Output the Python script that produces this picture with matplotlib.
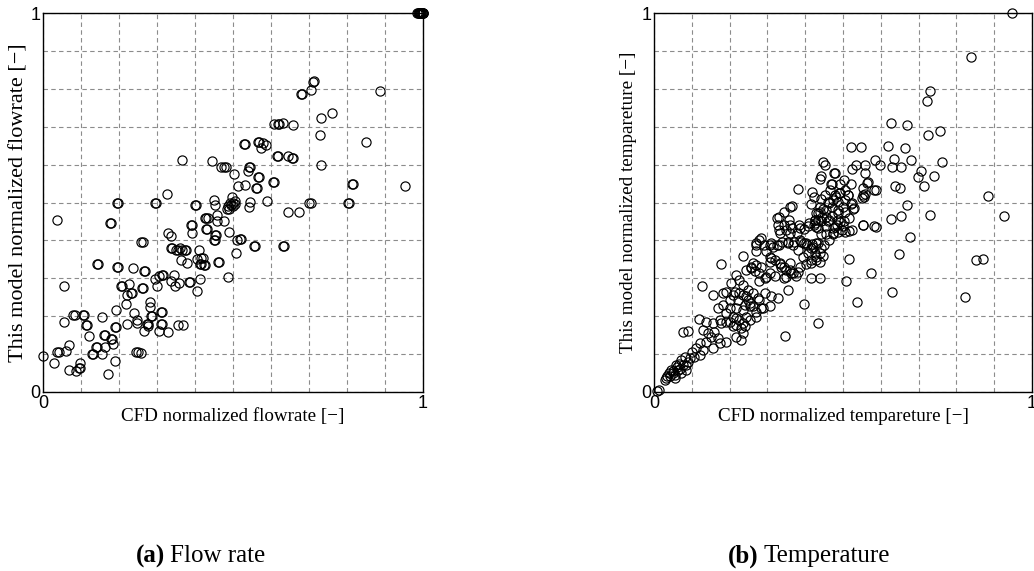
import numpy as np
import matplotlib
matplotlib.use("Agg")
import matplotlib.pyplot as plt

# (CFD, this model) pairs; repeated pairs show as bold rings
flow_pts = [
    (0.985, 1.0), (0.987, 1.0), (0.989, 1.0), (0.99, 1.0), (0.991, 1.0), (0.993, 1.0),
    (0.994, 1.0), (0.996, 1.0), (0.997, 1.0), (0.999, 1.0), (1.0, 1.0), (1.0, 1.0),
    (0.711, 0.818), (0.714, 0.820), (0.706, 0.796), (0.678, 0.785), (0.681, 0.785),
    (0.886, 0.794), (0.761, 0.737), (0.731, 0.723), (0.728, 0.679),
    (0.607, 0.706), (0.619, 0.706), (0.622, 0.706), (0.632, 0.709), (0.658, 0.704),
    (0.849, 0.659), (0.529, 0.654), (0.532, 0.654), (0.566, 0.659), (0.569, 0.659),
    (0.579, 0.657), (0.588, 0.652), (0.573, 0.644),
    (0.616, 0.624), (0.619, 0.624), (0.646, 0.622), (0.654, 0.617), (0.657, 0.617),
    (0.732, 0.600), (0.366, 0.611), (0.444, 0.610), (0.468, 0.594), (0.476, 0.594),
    (0.482, 0.594), (0.503, 0.575), (0.541, 0.595), (0.544, 0.595), (0.540, 0.583),
    (0.565, 0.568), (0.568, 0.568), (0.604, 0.555), (0.607, 0.555),
    (0.561, 0.539), (0.564, 0.539), (0.514, 0.544), (0.532, 0.546),
    (0.813, 0.550), (0.816, 0.550), (0.953, 0.544), (0.327, 0.522),
    (0.497, 0.515), (0.505, 0.504), (0.500, 0.500), (0.491, 0.500), (0.487, 0.491),
    (0.496, 0.494), (0.504, 0.497), (0.489, 0.482), (0.485, 0.482), (0.500, 0.491),
    (0.451, 0.506), (0.453, 0.494), (0.544, 0.501), (0.542, 0.489), (0.590, 0.504),
    (0.399, 0.493), (0.402, 0.493), (0.295, 0.499), (0.298, 0.499),
    (0.194, 0.499), (0.197, 0.499), (0.701, 0.499), (0.704, 0.499),
    (0.802, 0.499), (0.805, 0.499), (0.645, 0.475), (0.673, 0.475),
    (0.038, 0.454), (0.176, 0.447), (0.179, 0.447), (0.425, 0.459), (0.428, 0.459),
    (0.434, 0.459), (0.458, 0.468), (0.459, 0.451), (0.475, 0.451),
    (0.390, 0.441), (0.393, 0.441), (0.393, 0.419), (0.429, 0.429), (0.432, 0.429),
    (0.452, 0.414), (0.455, 0.414), (0.449, 0.400), (0.452, 0.400),
    (0.489, 0.421), (0.329, 0.419), (0.338, 0.411),
    (0.518, 0.403), (0.521, 0.403), (0.511, 0.401), (0.259, 0.397), (0.262, 0.397),
    (0.554, 0.385), (0.557, 0.385), (0.632, 0.385), (0.635, 0.385),
    (0.336, 0.380), (0.339, 0.380), (0.351, 0.375), (0.354, 0.375),
    (0.374, 0.374), (0.377, 0.374), (0.367, 0.375), (0.360, 0.380),
    (0.411, 0.375), (0.507, 0.366), (0.362, 0.349), (0.379, 0.341), (0.404, 0.350),
    (0.417, 0.353), (0.420, 0.353), (0.412, 0.338), (0.415, 0.338),
    (0.424, 0.335), (0.427, 0.335), (0.461, 0.344), (0.464, 0.344),
    (0.143, 0.337), (0.146, 0.337), (0.194, 0.329), (0.197, 0.329), (0.236, 0.326),
    (0.266, 0.318), (0.269, 0.318), (0.313, 0.310), (0.316, 0.310),
    (0.304, 0.306), (0.294, 0.299), (0.346, 0.308), (0.338, 0.294), (0.347, 0.280),
    (0.358, 0.287), (0.383, 0.289), (0.386, 0.289), (0.414, 0.298), (0.405, 0.267),
    (0.487, 0.304), (0.301, 0.279), (0.054, 0.280),
    (0.206, 0.279), (0.209, 0.279), (0.225, 0.284), (0.221, 0.257),
    (0.231, 0.262), (0.234, 0.262), (0.261, 0.274), (0.264, 0.274),
    (0.218, 0.231), (0.193, 0.216), (0.282, 0.237), (0.282, 0.225),
    (0.310, 0.211), (0.313, 0.211), (0.240, 0.209),
    (0.080, 0.204), (0.083, 0.204), (0.104, 0.204), (0.107, 0.204), (0.154, 0.198),
    (0.283, 0.201), (0.286, 0.201), (0.056, 0.186),
    (0.114, 0.177), (0.117, 0.177), (0.190, 0.171), (0.193, 0.171), (0.221, 0.180),
    (0.248, 0.189), (0.248, 0.183), (0.273, 0.180), (0.276, 0.180), (0.276, 0.175),
    (0.267, 0.162), (0.311, 0.180), (0.314, 0.180), (0.304, 0.162), (0.328, 0.159),
    (0.354, 0.178), (0.369, 0.178), (0.121, 0.149),
    (0.161, 0.150), (0.164, 0.150), (0.179, 0.139), (0.182, 0.139), (0.185, 0.127),
    (0.068, 0.125), (0.140, 0.118), (0.143, 0.118), (0.164, 0.118),
    (0.038, 0.105), (0.041, 0.105), (0.061, 0.108), (0.129, 0.101), (0.132, 0.101),
    (0.154, 0.101), (0.001, 0.094), (0.246, 0.105), (0.249, 0.105), (0.259, 0.103),
    (0.028, 0.077), (0.189, 0.083), (0.097, 0.077), (0.094, 0.063), (0.097, 0.063),
    (0.068, 0.057), (0.086, 0.055), (0.170, 0.048),
]

# (CFD, this model) pairs
temp_pts = [
    (0.947, 1.0), (0.838, 0.884), (0.730, 0.795), (0.722, 0.767), (0.627, 0.711),
    (0.668, 0.704), (0.756, 0.690), (0.725, 0.678), (0.522, 0.646), (0.547, 0.646),
    (0.619, 0.648), (0.663, 0.643), (0.585, 0.611), (0.598, 0.600), (0.634, 0.614),
    (0.630, 0.595), (0.654, 0.595), (0.681, 0.611), (0.761, 0.607), (0.534, 0.600),
    (0.557, 0.599), (0.558, 0.577), (0.523, 0.588), (0.707, 0.583), (0.698, 0.566),
    (0.714, 0.544), (0.741, 0.571), (0.566, 0.553), (0.382, 0.536), (0.638, 0.544),
    (0.651, 0.538), (0.587, 0.533), (0.558, 0.522), (0.555, 0.514), (0.884, 0.517),
    (0.669, 0.493), (0.364, 0.492), (0.654, 0.464), (0.731, 0.467), (0.626, 0.456),
    (0.926, 0.465), (0.554, 0.440), (0.588, 0.436), (0.677, 0.410), (0.649, 0.364),
    (0.517, 0.352), (0.852, 0.348), (0.870, 0.352), (0.177, 0.337), (0.573, 0.313),
    (0.507, 0.293), (0.414, 0.300), (0.438, 0.300), (0.128, 0.281), (0.630, 0.264),
    (0.155, 0.256), (0.823, 0.251), (0.537, 0.238), (0.396, 0.233), (0.434, 0.182),
    (0.347, 0.148), (0.078, 0.159), (0.090, 0.161), (0.119, 0.192),
    (0.448, 0.606), (0.452, 0.600), (0.476, 0.578), (0.441, 0.570), (0.439, 0.561),
    (0.503, 0.560), (0.520, 0.548), (0.491, 0.550), (0.470, 0.550), (0.563, 0.551),
    (0.552, 0.539), (0.583, 0.532), (0.419, 0.528), (0.422, 0.515), (0.416, 0.497),
    (0.465, 0.532), (0.478, 0.519), (0.452, 0.519), (0.487, 0.502), (0.459, 0.502),
    (0.471, 0.489), (0.487, 0.480), (0.448, 0.484), (0.439, 0.476),
    (0.513, 0.519), (0.506, 0.506), (0.522, 0.497), (0.526, 0.484), (0.504, 0.476),
    (0.517, 0.458), (0.503, 0.450), (0.552, 0.519), (0.550, 0.511),
    (0.429, 0.471), (0.435, 0.454), (0.426, 0.454), (0.454, 0.463), (0.470, 0.464),
    (0.461, 0.450), (0.487, 0.454), (0.483, 0.441), (0.474, 0.432), (0.435, 0.432),
    (0.422, 0.441), (0.409, 0.445),
    (0.361, 0.487), (0.343, 0.476), (0.330, 0.463), (0.326, 0.458), (0.357, 0.454),
    (0.343, 0.441), (0.330, 0.428), (0.348, 0.428), (0.365, 0.432), (0.383, 0.441),
    (0.396, 0.430), (0.378, 0.419), (0.553, 0.441), (0.583, 0.437), (0.517, 0.426),
    (0.278, 0.402), (0.270, 0.393), (0.291, 0.389), (0.309, 0.393), (0.326, 0.389),
    (0.339, 0.397), (0.355, 0.393), (0.370, 0.397), (0.387, 0.402), (0.396, 0.393),
    (0.404, 0.389), (0.417, 0.391), (0.435, 0.393), (0.450, 0.389), (0.474, 0.419),
    (0.487, 0.423), (0.496, 0.428), (0.500, 0.437),
    (0.441, 0.508), (0.438, 0.489), (0.433, 0.471), (0.425, 0.454), (0.429, 0.436),
    (0.445, 0.463), (0.456, 0.480), (0.464, 0.498), (0.473, 0.507), (0.482, 0.515),
    (0.491, 0.524), (0.504, 0.533), (0.513, 0.520), (0.500, 0.489), (0.486, 0.471),
    (0.464, 0.454), (0.478, 0.436), (0.491, 0.449), (0.473, 0.418), (0.456, 0.418),
    (0.442, 0.418), (0.464, 0.401), (0.429, 0.392), (0.420, 0.383), (0.438, 0.366),
    (0.429, 0.357), (0.416, 0.348), (0.403, 0.339), (0.385, 0.330), (0.394, 0.357),
    (0.407, 0.366), (0.523, 0.427), (0.504, 0.423), (0.530, 0.485), (0.524, 0.498),
    (0.478, 0.577), (0.467, 0.549), (0.489, 0.524),
    (0.328, 0.441), (0.359, 0.441), (0.332, 0.419), (0.359, 0.419), (0.385, 0.433),
    (0.407, 0.437), (0.425, 0.446), (0.442, 0.450), (0.456, 0.437),
    (0.284, 0.406), (0.271, 0.389), (0.269, 0.371), (0.306, 0.389), (0.330, 0.389),
    (0.295, 0.371), (0.354, 0.397), (0.367, 0.389), (0.381, 0.375), (0.389, 0.397),
    (0.403, 0.393), (0.416, 0.380), (0.425, 0.367), (0.429, 0.349), (0.416, 0.340),
    (0.442, 0.380), (0.447, 0.358), (0.438, 0.344), (0.235, 0.358),
    (0.310, 0.353), (0.319, 0.349), (0.332, 0.340), (0.306, 0.344),
    (0.262, 0.340), (0.257, 0.327), (0.266, 0.318), (0.279, 0.314),
    (0.337, 0.331), (0.350, 0.322), (0.359, 0.340), (0.363, 0.314), (0.376, 0.305),
    (0.345, 0.300), (0.319, 0.305), (0.306, 0.314), (0.293, 0.300), (0.279, 0.292),
    (0.315, 0.383), (0.306, 0.357), (0.332, 0.339), (0.345, 0.330), (0.359, 0.322),
    (0.367, 0.313), (0.381, 0.317), (0.350, 0.304), (0.297, 0.304), (0.284, 0.330),
    (0.270, 0.335), (0.257, 0.330), (0.244, 0.322),
    (0.218, 0.309), (0.226, 0.296), (0.235, 0.283), (0.248, 0.270), (0.204, 0.287),
    (0.191, 0.265), (0.213, 0.265), (0.235, 0.256), (0.200, 0.243), (0.222, 0.243),
    (0.248, 0.243), (0.262, 0.261), (0.275, 0.248), (0.293, 0.261), (0.310, 0.252),
    (0.328, 0.248), (0.354, 0.270),
    (0.169, 0.221), (0.182, 0.230), (0.200, 0.221), (0.218, 0.221), (0.235, 0.217),
    (0.253, 0.226), (0.271, 0.212), (0.284, 0.221), (0.306, 0.226), (0.191, 0.208),
    (0.209, 0.199), (0.226, 0.190), (0.244, 0.199),
    (0.138, 0.186), (0.156, 0.181), (0.174, 0.190), (0.191, 0.186), (0.218, 0.177),
    (0.240, 0.173), (0.182, 0.261), (0.209, 0.256), (0.226, 0.261), (0.244, 0.252),
    (0.253, 0.234), (0.240, 0.230), (0.262, 0.226), (0.279, 0.243), (0.288, 0.221),
    (0.178, 0.181), (0.200, 0.186), (0.218, 0.195), (0.209, 0.173), (0.231, 0.168),
    (0.235, 0.181), (0.253, 0.190), (0.270, 0.199),
    (0.130, 0.164), (0.143, 0.155), (0.152, 0.146), (0.160, 0.159), (0.169, 0.142),
    (0.138, 0.133), (0.121, 0.129), (0.112, 0.115), (0.130, 0.111), (0.121, 0.098),
    (0.107, 0.093), (0.156, 0.115), (0.174, 0.129), (0.191, 0.133), (0.218, 0.146),
    (0.235, 0.155), (0.231, 0.137),
    (0.090, 0.080), (0.077, 0.071), (0.063, 0.058), (0.050, 0.049), (0.041, 0.041),
    (0.033, 0.036), (0.028, 0.032), (0.055, 0.036), (0.072, 0.049), (0.085, 0.058),
    (0.046, 0.058), (0.059, 0.071), (0.072, 0.085), (0.081, 0.093),
    (0.040, 0.050), (0.060, 0.065), (0.070, 0.060), (0.055, 0.045), (0.065, 0.075),
    (0.085, 0.070), (0.095, 0.090), (0.100, 0.105), (0.035, 0.043), (0.050, 0.055),
    (0.008, 0.003), (0.012, 0.006),
]

panels = [
    dict(pts=flow_pts, rect=[0.0416, 0.3135, 0.3675, 0.6637],
         xlabel="CFD normalized flowrate [\u2212]",
         ylabel="This model normalized flowrate [\u2212]", ysize=16, ylpad=1,
         tag="(a)", caption="Flow rate", cx=0.160),
    dict(pts=temp_pts, rect=[0.6325, 0.3135, 0.3656, 0.6637],
         xlabel="CFD normalized tempareture [\u2212]",
         ylabel="This model normalized tempareture [\u2212]", ysize=13.8, ylpad=3,
         tag="(b)", caption="Temperature", cx=0.734),
]

serif = "Liberation Serif"
sans = "Liberation Sans"

fig = plt.figure(figsize=(10.34, 5.71), dpi=100)

for p in panels:
    ax = fig.add_axes(p["rect"])
    x = [a for a, b in p["pts"]]
    y = [b for a, b in p["pts"]]
    ax.plot(x, y, linestyle="none", marker="o", markersize=6.6,
            markerfacecolor="none", markeredgecolor="black",
            markeredgewidth=0.85, clip_on=False, zorder=3)
    ax.set_xlim(0, 1)
    ax.set_ylim(0, 1)
    ticks = np.linspace(0, 1, 11)
    labels = ["0"] + [""] * 9 + ["1"]
    ax.set_xticks(ticks)
    ax.set_yticks(ticks)
    ax.set_xticklabels(labels, fontfamily=sans, fontsize=13)
    ax.set_yticklabels(labels, fontfamily=sans, fontsize=13)
    ax.tick_params(length=0, pad=2)
    ax.grid(True, color="#8c8c8c", linestyle=(0, (4, 3)), linewidth=0.8, zorder=0)
    ax.set_axisbelow(True)
    for s in ax.spines.values():
        s.set_linewidth(1.0)
        s.set_color("black")
    ax.set_xlabel(p["xlabel"], fontfamily=serif, fontsize=13.7, labelpad=-3)
    ax.set_ylabel(p["ylabel"], fontfamily=serif, fontsize=p["ysize"], labelpad=p["ylpad"])

    fig.text(p["cx"], 1 - 556 / 571, p["tag"], fontfamily=serif, fontsize=18,
             fontweight="bold", ha="right", va="center")
    fig.text(p["cx"] + 0.004, 1 - 556 / 571, p["caption"], fontfamily=serif,
             fontsize=18, ha="left", va="center")

fig.savefig("out.png", dpi=100)
